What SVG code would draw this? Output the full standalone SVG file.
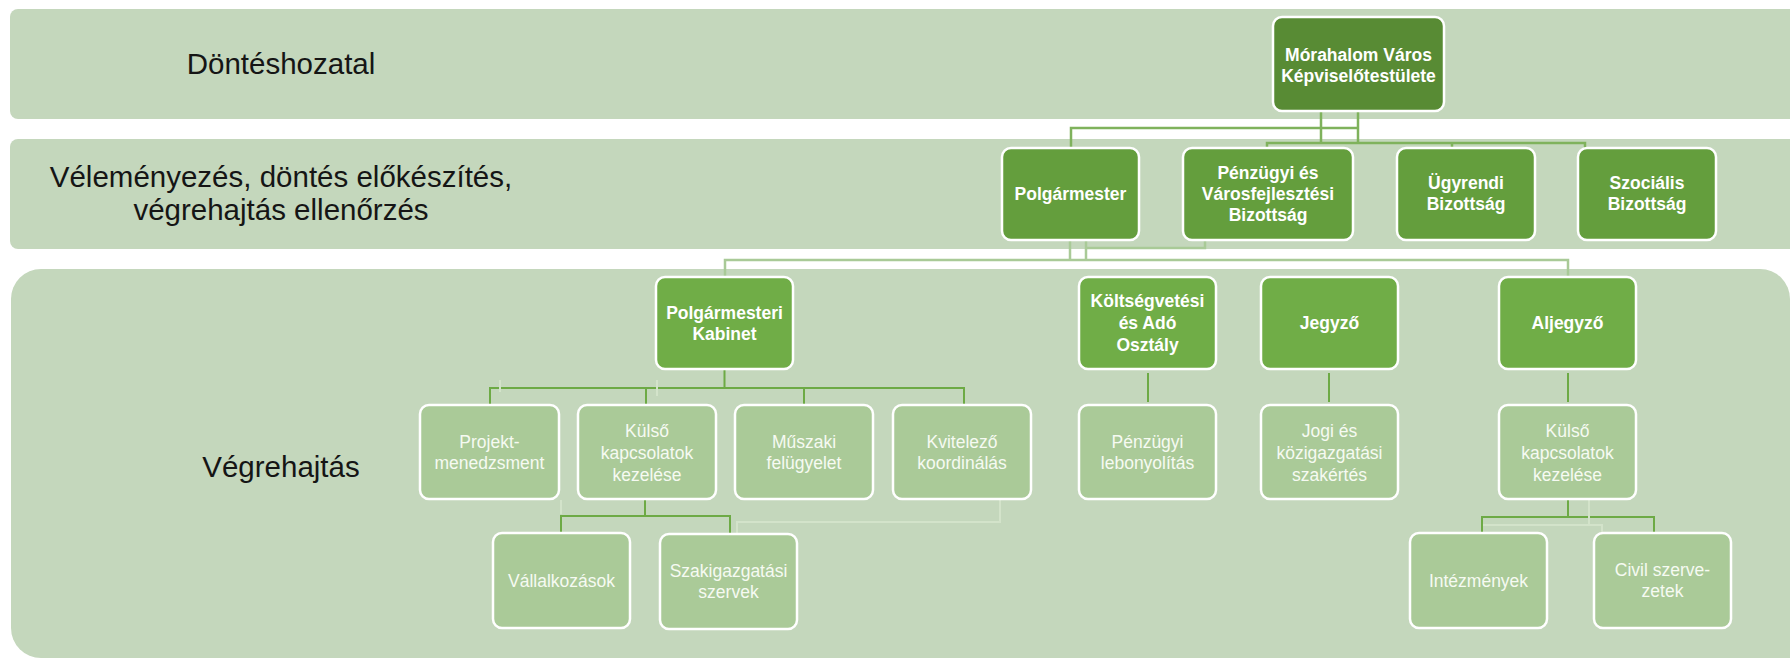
<svg xmlns="http://www.w3.org/2000/svg" width="1790" height="658" viewBox="0 0 1790 658">
<style>
.band{fill:#C4D7BC}
.lbl{font-family:"Liberation Sans",Arial,sans-serif;font-size:29.5px;fill:#151515;text-anchor:middle}
.box{stroke:#FFFFFF;stroke-width:2.5}
.n1{fill:#588B34}
.n2{fill:#649E3D}
.n3{fill:#70AD47}
.n4{fill:#AACA98}
.t{font-family:"Liberation Sans",Arial,sans-serif;font-size:17.5px;fill:#FFFFFF;text-anchor:middle}
.tb{font-weight:bold}
.t4{fill:#F6FAF2}
.c1{fill:none;stroke:#7FB25C;stroke-width:2.5}
.c2{fill:none;stroke:#A9CA97;stroke-width:2.5}
.c3{fill:none;stroke:#6DAA45;stroke-width:2}
.cg{fill:none;stroke:#D3E3CA;stroke-width:2}
</style>
<rect width="1790" height="658" fill="#FFFFFF"/>
<g id="lanes">
<rect class="band" x="10" y="9" width="1800" height="110" rx="8"/>
<rect class="band" x="10" y="139" width="1800" height="110" rx="8"/>
<path class="band" d="M11 299A30 30 0 0 1 41 269H1760A30 30 0 0 1 1790 299V658H41A30 30 0 0 1 11 628Z"/>
<text class="lbl" x="281" y="74">Döntéshozatal</text>
<text class="lbl" x="281" y="187">Véleményezés, döntés előkészítés,</text>
<text class="lbl" x="281" y="220">végrehajtás ellenőrzés</text>
<text class="lbl" x="281" y="477">Végrehajtás</text>
</g>
<g id="connectors">
<path class="c1" d="M1071 148V128H1358M1321 111V143M1358 111V143M1267 148V143H1585V148M1452 143V148"/>
<path class="c2" d="M1070 240V260M1086 240V260M1086 248H1205V240M725 277V260H1568V277"/>
<path class="c3" d="M724.5 369V388M490 405V388H964V405M646 388V405M804 388V405"/>
<path class="c3" d="M645 499V516M561 535V516H730V535"/>
<path class="c3" d="M1148 373V402M1329 373V402M1568 373V402"/>
<path class="c3" d="M1568 499V517M1482 535V517H1654V535"/>
<path class="cg" d="M1000 500V522H737V548M561 500V514M500 380V392M500 417V429M657 380V396M1589 500V525M1483 525H1602V537"/>
</g>
<g id="n-kepviselo"><rect class="box n1" x="1273" y="17" width="171" height="94" rx="9"/><text class="t tb" x="1358.5" y="60.5">Mórahalom Város</text><text class="t tb" x="1358.5" y="81.5">Képviselőtestülete</text></g>
<g id="n-polgarmester"><rect class="box n2" x="1002" y="148" width="137" height="92" rx="9"/><text class="t tb" x="1070.5" y="200">Polgármester</text></g>
<g id="n-penzugyi-bizottsag"><rect class="box n2" x="1183" y="148" width="170" height="92" rx="9"/><text class="t tb" x="1268" y="178.5">Pénzügyi és</text><text class="t tb" x="1268" y="199.5">Városfejlesztési</text><text class="t tb" x="1268" y="220.5">Bizottság</text></g>
<g id="n-ugyrendi"><rect class="box n2" x="1397" y="148" width="138" height="92" rx="9"/><text class="t tb" x="1466" y="189">Ügyrendi</text><text class="t tb" x="1466" y="210">Bizottság</text></g>
<g id="n-szocialis"><rect class="box n2" x="1578" y="148" width="138" height="92" rx="9"/><text class="t tb" x="1647" y="189">Szociális</text><text class="t tb" x="1647" y="210">Bizottság</text></g>
<g id="n-kabinet"><rect class="box n3" x="656" y="277" width="137" height="92" rx="9"/><text class="t tb" x="724.5" y="319">Polgármesteri</text><text class="t tb" x="724.5" y="340">Kabinet</text></g>
<g id="n-koltsegvetesi"><rect class="box n3" x="1079" y="277" width="137" height="92" rx="9"/><text class="t tb" x="1147.5" y="307">Költségvetési</text><text class="t tb" x="1147.5" y="329">és Adó</text><text class="t tb" x="1147.5" y="351">Osztály</text></g>
<g id="n-jegyzo"><rect class="box n3" x="1261" y="277" width="137" height="92" rx="9"/><text class="t tb" x="1329.5" y="329">Jegyző</text></g>
<g id="n-aljegyzo"><rect class="box n3" x="1499" y="277" width="137" height="92" rx="9"/><text class="t tb" x="1567.5" y="329">Aljegyző</text></g>
<g id="n-projekt"><rect class="box n4" x="420" y="405" width="139" height="94" rx="9"/><text class="t t4" x="489.5" y="448">Projekt-</text><text class="t t4" x="489.5" y="469">menedzsment</text></g>
<g id="n-kulso1"><rect class="box n4" x="578" y="405" width="138" height="94" rx="9"/><text class="t t4" x="647" y="437">Külső</text><text class="t t4" x="647" y="459">kapcsolatok</text><text class="t t4" x="647" y="481">kezelése</text></g>
<g id="n-muszaki"><rect class="box n4" x="735" y="405" width="138" height="94" rx="9"/><text class="t t4" x="804" y="448">Műszaki</text><text class="t t4" x="804" y="469">felügyelet</text></g>
<g id="n-kivitelezo"><rect class="box n4" x="893" y="405" width="138" height="94" rx="9"/><text class="t t4" x="962" y="448">Kvitelező</text><text class="t t4" x="962" y="469">koordinálás</text></g>
<g id="n-penzugyi-lebonyolitas"><rect class="box n4" x="1079" y="405" width="137" height="94" rx="9"/><text class="t t4" x="1147.5" y="448">Pénzügyi</text><text class="t t4" x="1147.5" y="469">lebonyolítás</text></g>
<g id="n-jogi"><rect class="box n4" x="1261" y="405" width="137" height="94" rx="9"/><text class="t t4" x="1329.5" y="437">Jogi és</text><text class="t t4" x="1329.5" y="459">közigazgatási</text><text class="t t4" x="1329.5" y="481">szakértés</text></g>
<g id="n-kulso2"><rect class="box n4" x="1499" y="405" width="137" height="94" rx="9"/><text class="t t4" x="1567.5" y="437">Külső</text><text class="t t4" x="1567.5" y="459">kapcsolatok</text><text class="t t4" x="1567.5" y="481">kezelése</text></g>
<g id="n-vallalkozasok"><rect class="box n4" x="493" y="533" width="137" height="95" rx="9"/><text class="t t4" x="561.5" y="587">Vállalkozások</text></g>
<g id="n-szakigazgatasi"><rect class="box n4" x="660" y="534" width="137" height="95" rx="9"/><text class="t t4" x="728.5" y="577">Szakigazgatási</text><text class="t t4" x="728.5" y="598">szervek</text></g>
<g id="n-intezmenyek"><rect class="box n4" x="1410" y="533" width="137" height="95" rx="9"/><text class="t t4" x="1478.5" y="587">Intézmények</text></g>
<g id="n-civil"><rect class="box n4" x="1594" y="533" width="137" height="95" rx="9"/><text class="t t4" x="1662.5" y="576">Civil szerve-</text><text class="t t4" x="1662.5" y="597">zetek</text></g>
</svg>
